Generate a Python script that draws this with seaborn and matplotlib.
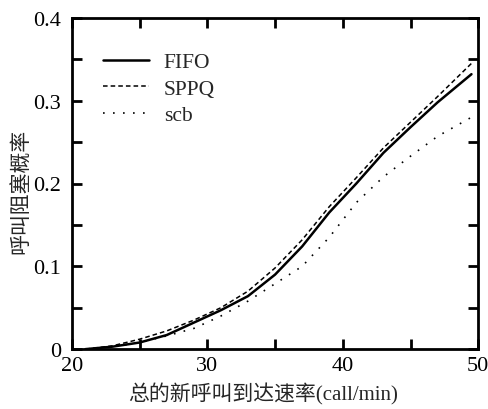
#!/usr/bin/env python3

import matplotlib
matplotlib.use('Agg')
import matplotlib.pyplot as plt
import pandas as pd
import seaborn as sns
from matplotlib.ticker import MultipleLocator

# values
rate = [21, 23, 25, 27, 29, 31, 33, 35, 37, 39, 41, 43, 45, 47, 49.5]
fifo = [0, 0.003, 0.008, 0.017, 0.032, 0.047, 0.064, 0.090, 0.124, 0.165, 0.200, 0.237, 0.268, 0.298, 0.332]
sppq = [0, 0.004, 0.012, 0.022, 0.035, 0.050, 0.070, 0.098, 0.132, 0.172, 0.207, 0.243, 0.274, 0.305, 0.345]
scb = [0, 0.003, 0.008, 0.016, 0.025, 0.040, 0.058, 0.079, 0.100, 0.135, 0.177, 0.208, 0.233, 0.257, 0.280]

x_label = '总的新呼叫到达速率(call/min)'
y_label = '呼叫阻塞概率'


def main():
    sns.set_style('ticks')
    plt.rcParams['font.family'] = ['Liberation Serif', 'Noto Sans CJK SC']
    plt.rcParams['axes.unicode_minus'] = False

    fig = plt.figure(figsize=(4.89, 4.10), dpi=100)
    ax = fig.add_axes([0.147, 0.146, 0.831, 0.808])

    data = pd.DataFrame({'rate': rate, 'FIFO': fifo, 'SPPQ': sppq, 'scb': scb})
    sns.lineplot(data=data, x='rate', y='FIFO', color='black', linewidth=1.8,
                 linestyle='-', label='FIFO', ax=ax)
    sns.lineplot(data=data, x='rate', y='SPPQ', color='black', linewidth=1.1,
                 linestyle=(0, (3, 2)), label='SPPQ', ax=ax)
    sns.lineplot(data=data, x='rate', y='scb', color='black', linewidth=1.2,
                 linestyle=(0, (1, 5)), label='scb', ax=ax)

    ax.set_xlim(20, 50)
    ax.set_ylim(0, 0.4)
    ax.xaxis.set_major_locator(MultipleLocator(10))
    ax.xaxis.set_minor_locator(MultipleLocator(5))
    ax.yaxis.set_major_locator(MultipleLocator(0.1))
    ax.yaxis.set_minor_locator(MultipleLocator(0.05))
    ax.set_yticks([0, 0.1, 0.2, 0.3, 0.4])
    ax.set_yticklabels(['0', '0.1', '0.2', '0.3', '0.4'])
    ax.tick_params(which='both', direction='in', top=True, right=True,
                   width=2, length=7, labelsize=16, colors='black')
    ax.tick_params(axis='y', pad=8)
    ax.tick_params(axis='x', pad=5)

    for s in ax.spines.values():
        s.set_linewidth(2)
        s.set_color('black')

    ax.set_xlabel(x_label, fontsize=15)
    ax.set_ylabel(y_label, fontsize=15)
    ax.xaxis.set_label_coords(0.47, -0.1)
    ax.yaxis.set_label_coords(-0.10, 0.48)

    ax.legend(loc='upper left', bbox_to_anchor=(0.03, 0.955), frameon=False,
              fontsize=15.5, handlelength=2.1, handletextpad=0.7, labelspacing=0.3)

    fig.savefig('out.png', dpi=100)


if __name__ == "__main__":
    main()
